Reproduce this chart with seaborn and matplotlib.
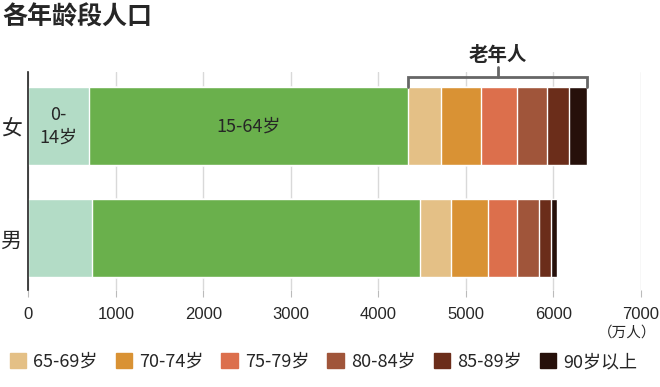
import matplotlib

matplotlib.use("Agg")

import matplotlib.pyplot as plt
import numpy as np
import pandas as pd
import seaborn as sns


GENDERS = ["女", "男"]
AGE_GROUPS = ["0-14岁", "15-64岁", "65-69岁", "70-74岁", "75-79岁", "80-84岁", "85-89岁", "90岁以上"]
FEMALE = [694, 3649, 370, 461, 415, 336, 258, 199]
MALE = [731, 3746, 357, 420, 335, 244, 144, 65]
COLORS = ["#b3dcc6", "#6ab04c", "#e4c086", "#d99234", "#dc6f4c", "#a0553a", "#6b2d1a", "#26100a"]
X_TICKS = [0, 1000, 2000, 3000, 4000, 5000, 6000, 7000]

sns.set_style("white")
plt.rcParams["font.family"] = ["Noto Sans CJK SC", "DejaVu Sans"]

df = pd.DataFrame({"gender": GENDERS})
for group, f, m in zip(AGE_GROUPS, FEMALE, MALE):
    df[group] = [f, m]
cum = df[AGE_GROUPS].cumsum(axis=1)
cum["gender"] = df["gender"]

fig = plt.figure(figsize=(6.6, 3.87), dpi=100)
ax = fig.add_axes([0.043, 0.2506, 0.928, 0.563])

# stacked bars: draw cumulative totals, widest first
for group, color in reversed(list(zip(AGE_GROUPS, COLORS))):
    sns.barplot(data=cum, x=group, y="gender", order=GENDERS, color=color,
                width=0.7, saturation=1, orient="h", ax=ax, zorder=2)

ax.set_xlim(0, 7000)
ax.set_ylim(1.464, -0.482)
ax.set_xticks(X_TICKS)
ax.set_xticklabels([str(t) for t in X_TICKS], family=["Liberation Sans", "DejaVu Sans"], fontsize=12)
ax.set_yticklabels(GENDERS, fontsize=15)
ax.set_xlabel("")
ax.set_ylabel("")
ax.grid(axis="x", color="#d9d9d9", linewidth=1, zorder=0)
ax.set_axisbelow(True)
for side in ["top", "right", "bottom"]:
    ax.spines[side].set_visible(False)
ax.spines["left"].set_color("#222222")
ax.spines["left"].set_linewidth(1.2)
ax.tick_params(axis="x", length=5, color="#bbbbbb", pad=7, bottom=True)
ax.tick_params(axis="y", length=0, pad=5)

# in-bar labels
ax.text(FEMALE[0] / 2, 0, "0-\n14岁", ha="center", va="center", fontsize=13, linespacing=1.3)
ax.text(FEMALE[0] + FEMALE[1] / 2, 0, "15-64岁", ha="center", va="center", fontsize=13)

# bracket for elderly
x0 = FEMALE[0] + FEMALE[1]
x1 = sum(FEMALE)
yb = -0.44
ax.plot([x0, x0, x1, x1], [-0.35, yb, yb, -0.35], color="#666666", lw=2,
        clip_on=False, solid_joinstyle="miter")
ax.plot([(x0 + x1) / 2] * 2, [yb, yb - 0.09], color="#666666", lw=2, clip_on=False)
ax.text((x0 + x1) / 2, yb - 0.11, "老年人", ha="center", va="bottom", fontsize=14,
        fontweight="bold")

fig.text(0.003, 0.955, "各年龄段人口", ha="left", va="center", fontsize=18, fontweight="bold")
fig.text(0.995, 1 - 333 / 387, "（万人）", ha="right", va="center", fontsize=10.5)

handles = [plt.Rectangle((0, 0), 1, 1, color=c) for c in COLORS[2:]]
fig.legend(handles, AGE_GROUPS[2:], loc="center", bbox_to_anchor=(0.49, 1 - 362 / 387),
           ncol=6, frameon=False, fontsize=13, handlelength=0.9, handleheight=0.9,
           handletextpad=0.4, columnspacing=1.0)

fig.savefig("out.png", dpi=100)
